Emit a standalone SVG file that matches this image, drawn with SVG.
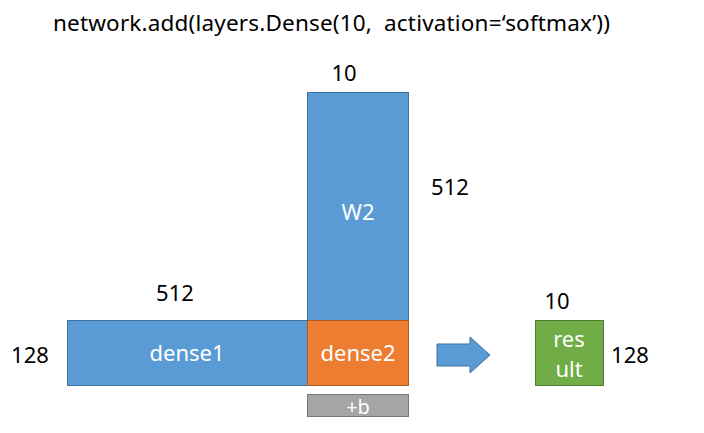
<svg xmlns="http://www.w3.org/2000/svg" width="704" height="433" viewBox="0 0 704 433">
<style>
text{font-family:"Noto Sans","Open Sans","Liberation Sans",sans-serif;}
.lbl{font-size:22px;fill:#000;}
.in{font-size:22px;fill:#fff;text-anchor:middle;}
.blue{fill:#5B9BD5;stroke:#41719C;stroke-width:1;}
.orange{fill:#ED7D31;stroke:#AE5A21;stroke-width:1;}
.green{fill:#70AD47;stroke:#507E32;stroke-width:1;}
.gray{fill:#A5A5A5;stroke:#787878;stroke-width:1;}
</style>
<rect width="704" height="433" fill="#fff"/>
<text x="53" y="31" style="font-size:22.5px;white-space:pre" fill="#000" textLength="557">network.add(layers.Dense(10,  activation=‘softmax’))</text>
<g id="W2">
<rect class="blue" x="307.5" y="92.5" width="101" height="228"/>
<text class="in" x="358" y="220">W2</text>
</g>
<g id="dense1">
<rect class="blue" x="67.5" y="320.5" width="240" height="65"/>
<text class="in" x="187" y="361">dense1</text>
</g>
<g id="dense2">
<rect class="orange" x="307.5" y="320.5" width="101" height="65"/>
<text class="in" x="358" y="361">dense2</text>
</g>
<g id="bias">
<rect class="gray" x="307.5" y="394.5" width="101" height="22"/>
<text class="in" x="358" y="414" style="font-size:20px">+b</text>
</g>
<g id="connectors">
<polygon points="437,344 470,344 470,337 490,355 470,373 470,366 437,366" fill="#5B9BD5" stroke="#41719C" stroke-width="1"/>
</g>
<g id="result">
<rect class="green" x="535.5" y="320.5" width="68" height="65"/>
<text class="in" x="569" y="347">res</text>
<text class="in" x="569" y="377">ult</text>
</g>
<g id="labels">
<text class="lbl" x="344" y="81" text-anchor="middle">10</text>
<text class="lbl" x="450" y="195" text-anchor="middle">512</text>
<text class="lbl" x="175" y="301" text-anchor="middle">512</text>
<text class="lbl" x="30" y="363" text-anchor="middle">128</text>
<text class="lbl" x="557" y="309" text-anchor="middle">10</text>
<text class="lbl" x="630" y="363" text-anchor="middle">128</text>
</g>
</svg>
